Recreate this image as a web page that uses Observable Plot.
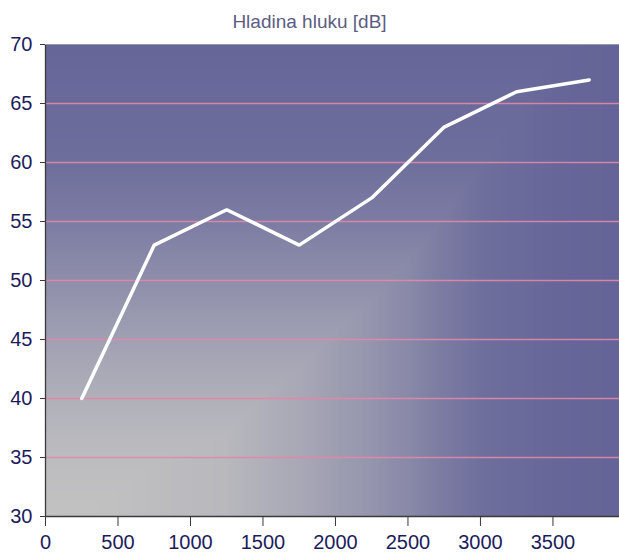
<!DOCTYPE html>
<html>
<head>
<meta charset="utf-8">
<script src="https://cdn.jsdelivr.net/npm/d3@7"></script>
<script src="https://cdn.jsdelivr.net/npm/@observablehq/plot@0.6"></script>
<style>
  body { margin: 0; background: #fff; }
  #title { box-sizing: border-box; height: 34px; width: 619px; padding-top: 11px; text-align: center; font-family: "Liberation Sans", Arial, sans-serif; font-size: 19px; line-height: 21px; color: #5c5c84; }
  #chart svg { display: block; }
</style>
</head>
<body>
<div id="title">Hladina hluku [dB]</div>
<div id="chart"></div>
<script>
const frequencies = [250, 750, 1250, 1750, 2250, 2750, 3250, 3750];
const levels = [40, 53, 56, 53, 57, 63, 66, 67];
const xTicks = [0, 500, 1000, 1500, 2000, 2500, 3000, 3500];
const yTicks = [30, 35, 40, 45, 50, 55, 60, 65, 70];
const gridLines = [35, 40, 45, 50, 55, 60, 65];

// background shading (rectangular "from corner" gradient) read along the bottom and left edges
const shadeXStops = [0, 448, 1248, 1759, 2262, 2517, 2772, 3028, 3531, 3959];
const shadeXValues = [0, 0.02, 0.11, 0.28, 0.49, 0.62, 0.77, 0.89, 0.98, 1];
const shadeYStops = [30, 35, 40, 45, 50, 55, 60, 65, 70];
const shadeYValues = [0, 0.06, 0.19, 0.36, 0.55, 0.74, 0.89, 0.94, 0.98];

const data = frequencies.map((f, i) => ({x: f, y: levels[i]}));
const sh = d3.scaleLinear().domain(shadeXStops).range(shadeXValues).clamp(true);
const sv = d3.scaleLinear().domain(shadeYStops).range(shadeYValues).clamp(true);

const chart = Plot.plot({
  width: 619,
  height: 521,
  marginTop: 10,
  marginBottom: 39,
  marginLeft: 45,
  marginRight: 0,
  style: {fontFamily: "Liberation Sans, Arial, sans-serif", color: "#1c1c5c", background: "transparent"},
  x: {domain: [0, 3959], label: null},
  y: {domain: [30, 70], label: null},
  color: {type: "linear", domain: [0, 1], range: ["#c2c2c2", "#646498"], interpolate: "rgb"},
  marks: [
    Plot.raster({fill: (x, y) => Math.max(sh(x), sv(y)), x1: 0, x2: 3959, y1: 30, y2: 70, pixelSize: 1, imageRendering: "auto"}),
    Plot.ruleY(gridLines, {stroke: "#e08aa6", strokeWidth: 1.5, strokeOpacity: 0.9}),
    Plot.line(data, {x: "x", y: "y", stroke: "white", strokeWidth: 3.5, strokeLinejoin: "miter"}),
    Plot.ruleX([0], {stroke: "#3a3a3a", strokeWidth: 1.3}),
    Plot.ruleY([30], {stroke: "#3a3a3a", strokeWidth: 1.3}),
    Plot.ruleY([70], {stroke: "#9a9aa6", strokeWidth: 1}),
    Plot.axisX({ticks: xTicks, tickSize: 10, tickPadding: 8, tickFormat: d => String(d), stroke: "#3a3a3a", fill: "#1c1c5c", fontSize: 20, label: null}),
    Plot.axisY({ticks: yTicks, tickSize: 5, tickPadding: 8, stroke: "#3a3a3a", fill: "#1c1c5c", fontSize: 20, label: null})
  ]
});
document.getElementById("chart").appendChild(chart);
</script>
</body>
</html>
